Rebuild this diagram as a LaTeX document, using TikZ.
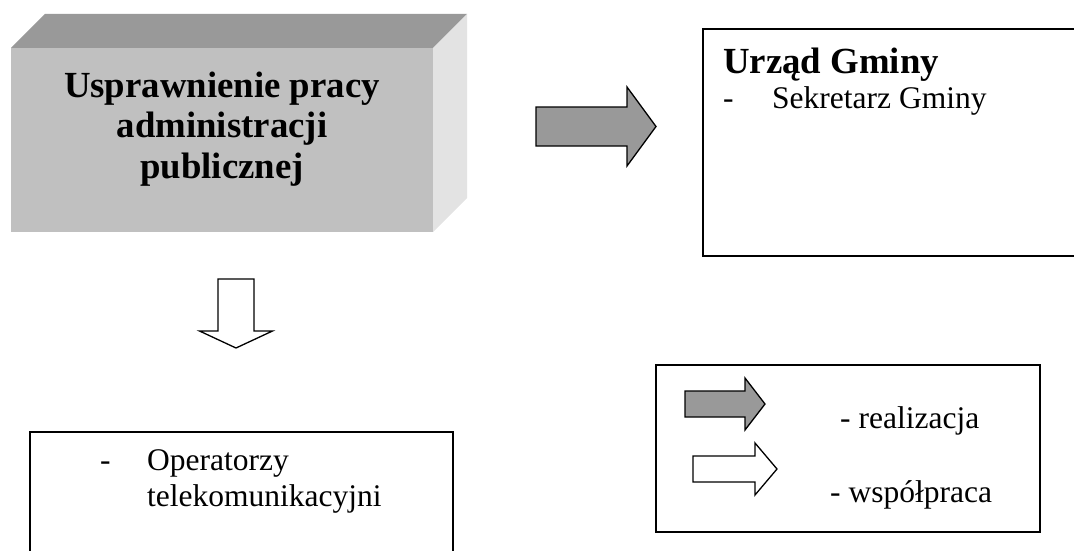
\documentclass[tikz,border=0pt]{standalone}
\usepackage{fontspec}
\setmainfont{Liberation Serif}
\usepackage{tikz}
\usetikzlibrary{calc,positioning}
\definecolor{cubetop}{HTML}{999999}
\definecolor{cubefront}{HTML}{C0C0C0}
\definecolor{cubeside}{HTML}{E3E3E3}
\tikzset{
  od schemes/.style = {
    x = 1pt, y = -1pt,
    % ramki
    frame/.style      = {line width = 2pt},
    % teksty
    plain text/.style = {font=\fontsize{31.5}{36}\selectfont, inner sep=0pt, anchor=base west},
    bold text/.style  = {font=\bfseries\fontsize{36.8}{40.5}\selectfont, inner sep=0pt},
    % strzalki blokowe
    arr line/.style    = {line width = 1.3pt, line join=miter},
    gray arrow/.style  = {arr line, fill=cubetop},
    white arrow/.style = {arr line, fill=white},
  }
}

\begin{document}
\begin{tikzpicture}[od schemes]
	\useasboundingbox (0,0) rectangle (1074,551);
	\def\blockarrow[#1](#2) at (#3) <#4,#5,#6,#7>;{
		\draw[shift={(#3)}, #1] (0,-#6) -- (#4,-#6) -- (#4,-#7) -- ({#4+#5},0)
			-- (#4,#7) -- (#4,#6) -- (0,#6) -- cycle;
		\coordinate (#2) at (#3); }
	\def\cube(#1) <#2,#3,#4,#5,#6> at (#7);{ % x0,y0,x1,y1,depth
		\fill[cubetop]   (#2,#3) -- ++(#6,-#6) -- (#4+#6,#3-#6) -- (#4,#3) -- cycle;
		\fill[cubeside]  (#4,#3) -- ++(#6,-#6) -- (#4+#6,#5-#6) -- (#4,#5) -- cycle;
		\fill[cubefront] (#2,#3) rectangle (#4,#5);
		\coordinate (#1) at (#7); }

%---------------------------------------------

	\cube (goal_box) <11,48,433,232,34> at (222,140);
	% base = ostatni wiersz
	\node[bold text, align=center, anchor=base] (goal) at (222,178)
		{Usprawnienie pracy\\administracji\\publicznej};

	\blockarrow[gray arrow](to_ug) at (536,126.5) <91,29,19.5,39.5>;
	\blockarrow[white arrow, rotate=-90](to_op) at (236,279) <52,17,18,36.5>;

	\draw[frame] (703,29) coordinate (ug_nw) rectangle (1090,256);
	\node[bold text, anchor=base west] (ug) at (723,74) {Urząd Gminy};
	\node[plain text] (ug_dash) at (723,109) {-};
	\node[plain text] (ug_item) at (772,109) {Sekretarz Gminy};

	\draw[frame] (30,432) coordinate (op_nw) rectangle (453,570);
	\node[plain text] (op_dash) at (100,470) {-};
	\node[plain text, align=left] (op_item) at (147,506) {Operatorzy\\telekomunikacyjni};

%---------------------------------------------
	\draw[frame] (656,365) coordinate (leg_nw) rectangle (1040,532);
	\blockarrow[gray arrow](leg_real) at (685,404) <60,20,13,26>;
	\blockarrow[white arrow](leg_coop) at (693,469) <62,22,13,26>;
	\node[plain text] (real) at (840,428) {- realizacja};
	\node[plain text] (coop) at (830,502) {- współpraca};
\end{tikzpicture}
\end{document}
